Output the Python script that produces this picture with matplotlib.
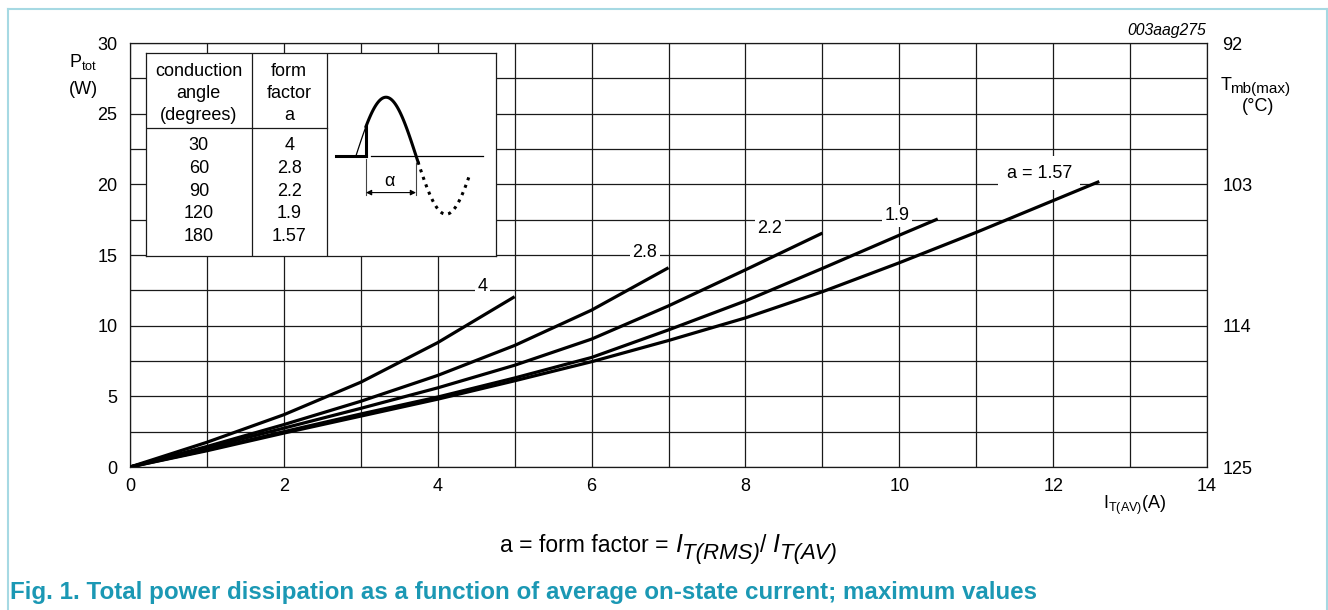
import numpy as np
import matplotlib.pyplot as plt
from matplotlib.lines import Line2D

plt.rcParams['font.family'] = ['Liberation Sans', 'DejaVu Sans']
plt.rcParams['mathtext.fontset'] = 'custom'
plt.rcParams['mathtext.rm'] = 'Liberation Sans'
plt.rcParams['mathtext.it'] = 'Liberation Sans:italic'

# P_tot(W) against I_T(AV)(A) for each form factor
i_a4 = [0, 1, 2, 3, 4, 5]
p_a4 = [0, 1.75, 3.7, 6.0, 8.8, 12.05]

i_a28 = [0, 1, 2, 3, 4, 5, 6, 7]
p_a28 = [0, 1.45, 3.0, 4.65, 6.48, 8.6, 11.1, 14.1]

i_a22 = [0, 1, 2, 3, 4, 5, 6, 7, 8, 9]
p_a22 = [0, 1.35, 2.75, 4.15, 5.6, 7.2, 9.05, 11.4, 13.95, 16.55]

i_a19 = [0, 1, 2, 3, 4, 5, 6, 7, 8, 9, 10, 10.5]
p_a19 = [0, 1.2, 2.5, 3.75, 4.95, 6.3, 7.75, 9.7, 11.75, 14.05, 16.4, 17.55]

i_a157 = [0, 1, 2, 3, 4, 5, 6, 7, 8, 9, 10, 11, 12, 12.6]
p_a157 = [0, 1.15, 2.4, 3.6, 4.8, 6.1, 7.45, 8.95, 10.55, 12.4, 14.45, 16.6, 18.85, 20.2]

# conduction angle table
angles = ['30', '60', '90', '120', '180']
form_factors = ['4', '2.8', '2.2', '1.9', '1.57']

# right hand scale
tmb_ticks = [92, 103, 114, 125]

W, H = 1328, 610
def fx(px):
    return px / W
def fy(py):
    return 1 - py / H

fig = plt.figure(figsize=(W / 100, H / 100), dpi=100)
ax = fig.add_axes([fx(130), fy(467), (1207 - 130) / W, (467 - 43) / H])

ax.set_xlim(0, 14)
ax.set_ylim(0, 30)
ax.set_xticks(np.arange(0, 15, 2))
ax.set_xticks(np.arange(0, 15, 1), minor=True)
ax.set_yticks(np.arange(0, 31, 5))
ax.set_yticks(np.arange(0, 31, 2.5), minor=True)
ax.grid(True, which='both', color='#1a1a1a', lw=0.9)
ax.set_axisbelow(True)
ax.tick_params(which='both', length=0, labelsize=13)
ax.tick_params(axis='x', pad=8)
ax.tick_params(axis='y', pad=9)
for s in ax.spines.values():
    s.set_color('#1a1a1a')
    s.set_linewidth(0.9)

for xs, ys in [(i_a4, p_a4), (i_a28, p_a28), (i_a22, p_a22), (i_a19, p_a19), (i_a157, p_a157)]:
    ax.plot(xs, ys, color='black', lw=2.3, solid_capstyle='butt', solid_joinstyle='round', zorder=4)

box = dict(facecolor='white', edgecolor='none', pad=2)
ax.text(4.58, 12.74, form_factors[0], fontsize=13, ha='center', va='center', bbox=box, zorder=3)
ax.text(6.69, 15.15, form_factors[1], fontsize=13, ha='center', va='center', bbox=box, zorder=3)
ax.text(8.32, 16.85, form_factors[2], fontsize=13, ha='center', va='center', bbox=box, zorder=3)
ax.text(9.97, 17.76, form_factors[3], fontsize=13, ha='center', va='center', bbox=box, zorder=3)
ax.text(11.82, 20.8, 'a = ' + form_factors[4], fontsize=13, ha='center', va='center',
        bbox=dict(facecolor='white', edgecolor='none', pad=6), zorder=3)

# Tmb(max) scale on the right
ax2 = ax.twinx()
ax2.set_ylim(125, 92)
ax2.set_yticks(tmb_ticks)
ax2.tick_params(length=0, labelsize=13, pad=11)
for s in ax2.spines.values():
    s.set_visible(False)

# axis titles
fig.text(fx(83), fy(62), r'P$_{\rm tot}$', fontsize=13, ha='center', va='center')
fig.text(fx(83), fy(90), '(W)', fontsize=13, ha='center', va='center')
fig.text(fx(1221), fy(85), 'T', fontsize=13, ha='left', va='center')
fig.text(fx(1230), fy(89), 'mb(max)', fontsize=11, ha='left', va='center')
fig.text(fx(1258), fy(106), '(°C)', fontsize=13, ha='center', va='center')
fig.text(fx(1103), fy(505), r'I$_{\rm T(AV)}$(A)', fontsize=13, ha='left', va='center')
fig.text(fx(1206), fy(31), '003aag275', fontsize=11.3, style='italic', ha='right', va='center')

# form factor definition, built piece by piece
renderer = fig.canvas.get_renderer()
pieces = [('a = form factor = ', 16.5, 'normal', 0),
          ('I', 18, 'italic', 0), ('T(RMS)', 16, 'italic', 7),
          ('/ ', 16.5, 'normal', 0),
          ('I', 18, 'italic', 0), ('T(AV)', 16, 'italic', 7)]
xpos = 500
for txt, size, st, dy in pieces:
    t = fig.text(fx(xpos), fy(552 + dy), txt, fontsize=size, style=st, ha='left', va='baseline')
    xpos += t.get_window_extent(renderer).width

fig.text(fx(10), fy(592), 'Fig. 1. Total power dissipation as a function of average '
         'on-state current; maximum values', fontsize=17.4, weight='bold',
         color='#1b98b4', ha='left', va='center')

# table of conduction angle / form factor
tb = fig.add_axes([fx(146), fy(256), (496 - 146) / W, (256 - 53) / H])
tb.set_xlim(0, 1)
tb.set_ylim(0, 1)
tb.set_xticks([])
tb.set_yticks([])
tb.set_facecolor('white')
for s in tb.spines.values():
    s.set_color('#1a1a1a')
    s.set_linewidth(0.9)
tb.axvline(0.303, color='#1a1a1a', lw=0.9)
tb.axvline(0.517, color='#1a1a1a', lw=0.9)
tb.plot([0, 0.517], [0.631, 0.631], color='#1a1a1a', lw=0.9)
for txt, y in zip(['conduction', 'angle', '(degrees)'], [0.91, 0.802, 0.694]):
    tb.text(0.151, y, txt, fontsize=13, ha='center', va='center')
for txt, y in zip(['form', 'factor', 'a'], [0.91, 0.802, 0.694]):
    tb.text(0.409, y, txt, fontsize=13, ha='center', va='center')
row_y = [0.542, 0.431, 0.32, 0.209, 0.098]
for ang, ff, y in zip(angles, form_factors, row_y):
    tb.text(0.151, y, ang, fontsize=13, ha='center', va='center')
    tb.text(0.409, y, ff, fontsize=13, ha='center', va='center')

# waveform sketch: phase in degrees, amplitude 1
wv = fig.add_axes([fx(327), fy(256), (496 - 327) / W, (256 - 53) / H])
wv.set_xlim(-87, 420)
wv.set_ylim(-1.714, 1.756)
wv.axis('off')
start = 30
ph = np.linspace(0, start, 20)
wv.plot(ph, np.sin(np.radians(ph)), color='black', lw=0.9)
ph = np.linspace(start, 186, 120)
wv.plot(ph, np.sin(np.radians(ph)), color='black', lw=2.2)
ph = np.linspace(186, 342, 120)
wv.plot(ph, np.sin(np.radians(ph)), color='black', lw=2.2, ls=(0, (1.0, 1.6)))
wv.plot([-60, start], [0, 0], color='black', lw=2.2)
wv.plot([start, start], [0, np.sin(np.radians(start))], color='black', lw=2.2)
wv.plot([45, 381], [0, 0], color='black', lw=0.9)
wv.plot([start, start], [-0.05, -0.67], color='#444444', lw=0.8)
wv.plot([180, 180], [-0.12, -0.67], color='#444444', lw=0.8)
wv.annotate('', xy=(start, -0.63), xytext=(180, -0.63),
            arrowprops=dict(arrowstyle='<|-|>', color='black', lw=0.8,
                            mutation_scale=8, shrinkA=0, shrinkB=0))
wv.text(99, -0.44, 'α', fontsize=13, ha='center', va='center')

# frame around the figure
frame = '#a6d9e3'
fig.add_artist(Line2D([fx(8), fx(8)], [0, fy(9)], transform=fig.transFigure, color=frame, lw=1.5))
fig.add_artist(Line2D([fx(8), fx(1327)], [fy(9), fy(9)], transform=fig.transFigure, color=frame, lw=1.5))
fig.add_artist(Line2D([fx(1327), fx(1327)], [fy(9), 0], transform=fig.transFigure, color=frame, lw=1.5))

fig.savefig('out.png', dpi=100)
